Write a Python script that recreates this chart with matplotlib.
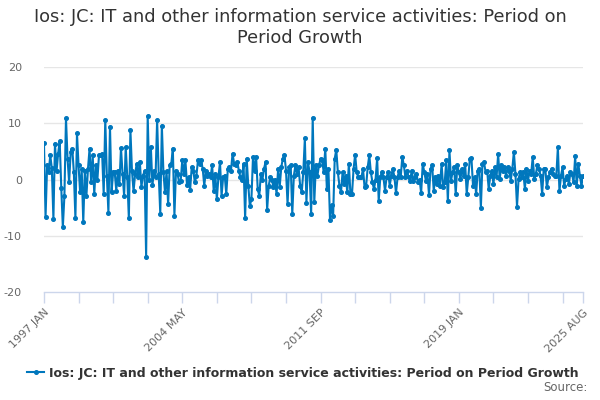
import matplotlib
matplotlib.use("Agg")
import matplotlib.pyplot as plt
import pandas as pd

title = "Ios: JC: IT and other information service activities: Period on\nPeriod Growth"
series_name = "Ios: JC: IT and other information service activities: Period on Period Growth"
start_month = "1997-01"

growth = [
    # 1997
    6.5, -6.7, 2.5, 1.3, 4.3, 2.0, -7.0, 6.4, 1.5, 4.6, 6.8, -1.5,
    # 1998
    -8.5, -2.9, 10.9, 3.7, -0.5, 4.9, 5.5, 1.3, -6.9, 8.2, 2.5, -2.3,
    # 1999
    1.9, -7.6, 1.6, -2.9, 1.9, 5.5, -0.5, 4.3, -2.6, 2.5, 0.0, 4.3,
    # 2000
    4.3, 4.6, -2.6, 10.6, 0.7, -5.9, 9.4, -2.3, 1.3, 1.3, -2.0, 1.5,
    # 2001
    -0.8, 5.6, 1.0, -2.9, 5.8, 0.5, -6.9, 8.8, 1.5, -2.1, 1.0, 2.8,
    # 2002
    0.4, 3.1, -1.3, 0.7, 1.5, -13.7, 11.3, 0.0, 5.8, -1.0, 1.5, 0.5,
    # 2003
    10.6, 1.0, -6.1, 9.6, 1.3, -2.3, 1.5, -4.4, 2.5, 2.8, 5.5, -6.4,
    # 2004
    1.6, 1.0, -0.5, -0.2, 3.4, 1.0, 3.4, -0.9, 0.4, -1.8, 2.2, 1.6,
    # 2005
    -0.5, 0.7, 3.4, 2.8, 3.4, 1.9, -1.1, 1.6, 0.7, 1.0, 0.4, 2.5,
    # 2006
    -2.0, 1.0, -3.5, 0.4, 3.1, -2.9, 0.4, 0.7, -2.6, 1.9, 2.2, 1.6,
    # 2007
    4.6, 2.8, 2.5, 3.1, 1.6, 0.4, 0.0, 2.8, -6.9, 3.7, -1.1, -4.7,
    # 2008
    -3.5, 4.0, 1.5, 4.0, -1.7, -2.9, 1.0, 0.0, 1.9, 3.1, -5.4, -1.1,
    # 2009
    0.4, 0.0, -1.3, 0.0, -2.6, 1.9, -1.3, 2.2, 3.7, 4.4, 1.6, -4.4,
    # 2010
    2.2, 2.5, -6.2, 0.7, 2.5, 1.0, 2.2, -1.1, -2.3, 1.3, 7.3, -4.1,
    # 2011
    3.1, 1.3, -6.1, 11.0, -4.0, 2.5, 0.7, 2.5, 3.7, 3.4, 1.3, 5.5,
    # 2012
    -1.7, 1.9, -7.2, -4.5, -6.4, 3.7, 5.3, 1.3, -1.1, -2.3, 1.3, -0.8,
    # 2013
    0.7, -2.3, 2.8, -2.6, -2.6, 1.9, 4.4, 1.3, 0.4, 0.4, 0.4, 1.9,
    # 2014
    -1.4, -1.1, 2.2, 4.3, 1.3, -0.5, -1.7, 0.0, 3.8, -3.8, 0.4, 1.3,
    # 2015
    0.4, -2.0, 0.4, 1.3, -1.1, 0.7, 1.9, 0.4, -2.4, 0.4, 1.6, 0.4,
    # 2016
    4.0, 2.5, 0.4, 1.6, 0.4, -0.2, 1.6, -0.2, 0.4, 1.0, -0.5, 0.0,
    # 2017
    -2.4, 2.8, 1.3, -0.2, 1.0, -2.7, 1.9, 2.5, -2.0, 0.4, -0.8, 0.7,
    # 2018
    -1.1, 2.8, -1.4, -0.5, 3.4, -3.9, 5.2, -0.2, 1.3, 2.2, -2.6, 2.5,
    # 2019
    1.3, 0.1, 1.9, 0.7, 2.8, -2.6, 0.4, 3.7, 3.8, -1.1, 0.4, -2.6,
    # 2020
    1.6, 1.9, -5.0, 2.8, 3.1, 1.3, 1.6, -1.7, 0.7, 1.6, -0.8, 2.2,
    # 2021
    0.5, 4.5, 0.1, 2.5, 1.6, 2.2, 0.7, 2.2, 1.6, -0.2, 1.9, 4.9,
    # 2022
    1.0, -4.8, 0.1, 1.3, 0.4, 1.3, -1.7, 1.9, -0.2, 1.6, 1.0, 4.0,
    # 2023
    0.1, 1.0, 2.6, 1.9, 0.7, -2.6, 1.9, 1.9, -1.4, 0.4, 1.3, 1.9,
    # 2024
    1.0, 0.7, 0.7, 5.7, -2.1, 0.7, 2.2, -1.1, 0.1, 0.7, -0.8, 1.3,
    # 2025
    1.0, -0.5, 4.1, -1.1, 2.8, 0.7, -1.1, 0.6,
]

months = pd.period_range(start=start_month, periods=len(growth), freq="M")
month_labels = [p.strftime("%Y %b").upper() for p in months]

tick_step = 22
label_every = 4
yticks = [-20, -10, 0, 10, 20]

line_color = "#0077bd"
axis_color = "#ccd6eb"
grid_color = "#e6e6e6"
text_color = "#666666"

fig = plt.figure(figsize=(6, 4), dpi=100)
ax = fig.add_axes([0.0733, 0.27, 0.8984, 0.5625])

x = list(range(len(growth)))
line, = ax.plot(x, growth, color=line_color, linewidth=1.5, marker="o",
                markersize=2.6, label=series_name, zorder=3)

ax.set_xlim(0, len(growth) - 1)
ax.set_ylim(-20, 20)

tick_pos = list(range(0, len(growth), tick_step))
if tick_pos[-1] != len(growth) - 1:
    tick_pos.append(len(growth) - 1)
labels = []
for k, p in enumerate(tick_pos):
    if p == len(growth) - 1 or k % label_every == 0:
        labels.append(month_labels[p])
    else:
        labels.append("")
ax.set_xticks(tick_pos)
ax.set_xticklabels(labels, rotation=45, ha="right", rotation_mode="anchor",
                   fontsize=8, color=text_color)
ax.tick_params(axis="x", direction="out", length=8, width=1, color=axis_color, pad=3)

ax.set_yticks(yticks)
ax.set_yticklabels([str(v) for v in yticks], fontsize=8, color=text_color)
ax.tick_params(axis="y", length=0, pad=16)
for v in yticks[1:]:
    ax.axhline(v, color=grid_color, linewidth=1, zorder=1)

for s in ["top", "right", "left"]:
    ax.spines[s].set_visible(False)
ax.spines["bottom"].set_color(axis_color)
ax.spines["bottom"].set_linewidth(1)

fig.text(0.5, 0.98, title, ha="center", va="top", fontsize=12.8,
         color="#333333", linespacing=1.2)

leg = fig.legend(handles=[line], loc="center", bbox_to_anchor=(0.505, 0.067),
                 frameon=False, handlelength=1.4, handletextpad=0.4,
                 prop={"weight": "bold", "size": 9})
for t in leg.get_texts():
    t.set_color("#333333")

fig.text(0.98, 0.015, "Source:", ha="right", va="bottom", fontsize=8.5, color=text_color)

fig.savefig("out.png", dpi=100)
